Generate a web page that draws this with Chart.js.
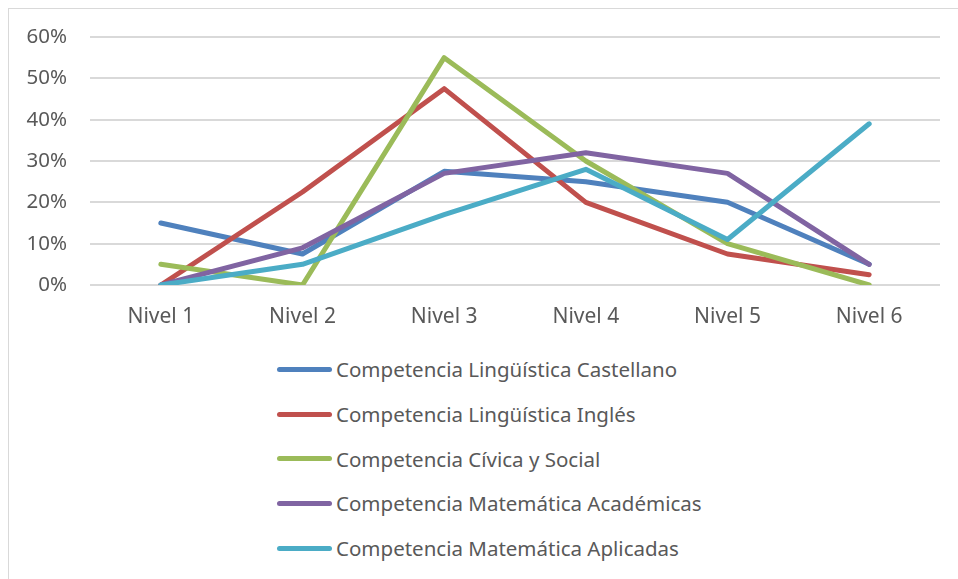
<!DOCTYPE html>
<html lang="es">
<head>
    <meta charset="UTF-8">
    <title>Competencias por nivel</title>
    <script src="https://cdn.jsdelivr.net/npm/chart.js"></script>
    <style>
        html, body { margin: 0; padding: 0; background: #fff; }
        body { width: 958px; height: 579px; position: relative; overflow: hidden; font-family: "Noto Sans", sans-serif; }
        .frame { position: absolute; left: 8px; top: 8px; width: 960px; height: 600px; border-top: 1px solid #d9d9d9; border-left: 1px solid #d9d9d9; }
        #chartBox { position: absolute; left: 0; top: 0; width: 958px; height: 345px; }
        #legend { position: absolute; left: 277px; top: 347px; }
        .item { display: flex; align-items: center; height: 44.75px; }
        .swatch { display: inline-block; width: 55px; height: 5px; border-radius: 3px; margin-right: 4px; }
        .label { font-size: 20.5px; line-height: 1; color: #595959; white-space: nowrap; }
    </style>
</head>
<body>
    <div class="frame"></div>
    <div id="chartBox"><canvas id="lineChart"></canvas></div>
    <div id="legend"></div>

    <script>
        const niveles = ['Nivel 1', 'Nivel 2', 'Nivel 3', 'Nivel 4', 'Nivel 5', 'Nivel 6'];
        const yTicks = [0, 0.1, 0.2, 0.3, 0.4, 0.5, 0.6];

        const castellano = [0.15, 0.075, 0.275, 0.25, 0.20, 0.05];
        const ingles = [0, 0.225, 0.475, 0.20, 0.075, 0.025];
        const civica = [0.05, 0, 0.55, 0.30, 0.10, 0];
        const matAcademicas = [0, 0.09, 0.27, 0.32, 0.27, 0.05];
        const matAplicadas = [0, 0.05, 0.17, 0.28, 0.11, 0.39];

        const seriesNames = [
            'Competencia Lingüística Castellano',
            'Competencia Lingüística Inglés',
            'Competencia Cívica y Social',
            'Competencia Matemática Académicas',
            'Competencia Matemática Aplicadas'
        ];
        const seriesData = [castellano, ingles, civica, matAcademicas, matAplicadas];
        const colors = ['#4f81bd', '#c0504d', '#9bbb59', '#8064a2', '#4bacc6'];

        const textColor = '#595959';
        const gridColor = '#d9d9d9';
        const fontFamily = '"Noto Sans", sans-serif';

        // Excel draws the last series on top, so reverse the draw order
        const datasets = seriesData.map((data, i) => ({
            label: seriesNames[i],
            data: data,
            borderColor: colors[i],
            backgroundColor: colors[i],
            borderWidth: 5,
            borderCapStyle: 'round',
            borderJoinStyle: 'round',
            pointRadius: 0,
            tension: 0,
            fill: false,
            order: seriesData.length - i
        }));

        new Chart(document.getElementById('lineChart'), {
            type: 'line',
            data: { labels: niveles, datasets: datasets },
            options: {
                responsive: true,
                maintainAspectRatio: false,
                animation: false,
                layout: { padding: { top: 37, right: 18, bottom: 0, left: 0 } },
                plugins: {
                    legend: { display: false },
                    tooltip: { enabled: false }
                },
                scales: {
                    x: {
                        offset: true,
                        grid: { display: false, drawTicks: false },
                        border: { display: false },
                        ticks: {
                            color: textColor,
                            padding: 19,
                            maxRotation: 0,
                            font: { family: fontFamily, size: 21 }
                        },
                        afterFit: (scale) => { scale.height = 60; }
                    },
                    y: {
                        min: 0,
                        max: 0.6,
                        afterBuildTicks: (scale) => { scale.ticks = yTicks.map(v => ({ value: v })); },
                        grid: { color: gridColor, lineWidth: 2, drawTicks: false },
                        border: { display: false },
                        ticks: {
                            color: textColor,
                            padding: 23,
                            font: { family: fontFamily, size: 20.5 },
                            callback: (v) => Math.round(v * 100) + '%'
                        },
                        afterFit: (scale) => { scale.width = 90; }
                    }
                }
            }
        });

        // legend listed vertically below the plot, like the original
        const legendDiv = document.getElementById('legend');
        seriesNames.forEach((name, i) => {
            const row = document.createElement('div');
            row.className = 'item';
            const sw = document.createElement('span');
            sw.className = 'swatch';
            sw.style.background = colors[i];
            const lb = document.createElement('span');
            lb.className = 'label';
            lb.textContent = name;
            row.appendChild(sw);
            row.appendChild(lb);
            legendDiv.appendChild(row);
        });
    </script>
</body>
</html>
